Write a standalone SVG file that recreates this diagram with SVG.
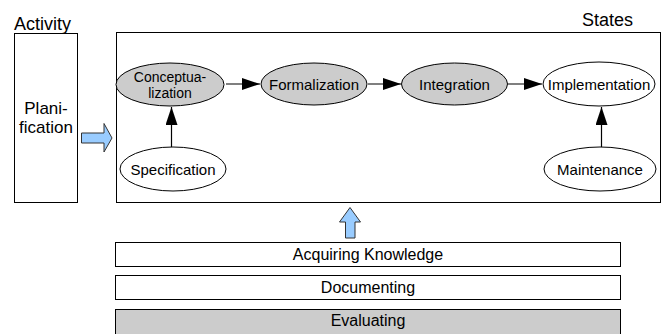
<svg xmlns="http://www.w3.org/2000/svg" width="663" height="334" viewBox="0 0 663 334">
<style>
text{font-family:"Liberation Sans",Arial,sans-serif;fill:#000}
.box{fill:#fff;stroke:#000;stroke-width:1}
.st{stroke:#000;stroke-width:1}
.g{fill:#cccccc}
.w{fill:#fff}
.lbl{font-size:15px;text-anchor:middle}
.big{font-size:16px;text-anchor:middle}
.hd{font-size:18px}
.edge{stroke:#000;stroke-width:1.2;fill:none;marker-end:url(#ah)}
.blue{fill:#99ccff;stroke:#333;stroke-width:1}
</style>
<defs>
<marker id="ah" markerWidth="19" markerHeight="12" refX="18" refY="6" orient="auto" markerUnits="userSpaceOnUse">
<path d="M0,0 L18,6 L0,12 Z" fill="#000"/>
</marker>
</defs>
<rect width="663" height="334" fill="#fff"/>
<g id="activity">
<text class="hd" x="14" y="30">Activity</text>
<rect class="box" x="14.5" y="33.5" width="63" height="169"/>
<text x="46" y="113.5" text-anchor="middle" style="font-size:17px">Plani-</text>
<text x="46" y="133" text-anchor="middle" style="font-size:17px">fication</text>
</g>
<g id="states">
<text class="hd" x="633" y="26" text-anchor="end">States</text>
<rect class="box" x="116.5" y="32.5" width="544" height="170"/>
</g>
<g id="conceptualization">
<ellipse class="st g" cx="170" cy="84.5" rx="54" ry="21.5"/>
<text class="lbl" x="170" y="81.5" style="font-size:14px">Conceptua-</text>
<text class="lbl" x="170" y="97.5" style="font-size:14px">lization</text>
</g>
<g id="formalization">
<ellipse class="st g" cx="314" cy="84" rx="53" ry="21"/>
<text class="lbl" x="314" y="89.5">Formalization</text>
</g>
<g id="integration">
<ellipse class="st g" cx="454.5" cy="84" rx="53" ry="21"/>
<text class="lbl" x="454.5" y="89.5">Integration</text>
</g>
<g id="implementation">
<ellipse class="st w" cx="599" cy="84" rx="56" ry="22"/>
<text class="lbl" x="599" y="89.5">Implementation</text>
</g>
<g id="specification">
<ellipse class="st w" cx="173" cy="169" rx="53" ry="22"/>
<text class="lbl" x="173" y="174.5">Specification</text>
</g>
<g id="maintenance">
<ellipse class="st w" cx="600" cy="169" rx="56" ry="22"/>
<text class="lbl" x="600" y="174.5">Maintenance</text>
</g>
<g id="connectors">
<line class="edge" x1="226" y1="84" x2="260" y2="84"/>
<line class="edge" x1="368" y1="84" x2="401" y2="84"/>
<line class="edge" x1="508" y1="84" x2="542" y2="84"/>
<line class="edge" x1="171.5" y1="147" x2="171.5" y2="107"/>
<line class="edge" x1="601.5" y1="147" x2="601.5" y2="107"/>
<path class="blue" d="M81.5,133 H104 V123.5 L112,138 L104,152 V143 H81.5 Z"/>
<path class="blue" d="M345.5,238 V222 H339.5 L350,207.5 L360.5,222 H355 V238 Z"/>
</g>
<g id="acquiring">
<rect class="box" x="115.5" y="242.5" width="505" height="24"/>
<text class="big" x="368" y="260">Acquiring Knowledge</text>
</g>
<g id="documenting">
<rect class="box" x="115.5" y="275.5" width="505" height="24"/>
<text class="big" x="368" y="293">Documenting</text>
</g>
<g id="evaluating">
<rect class="st g" x="115.5" y="309.5" width="505" height="25"/>
<text class="big" x="368" y="326">Evaluating</text>
</g>
</svg>
